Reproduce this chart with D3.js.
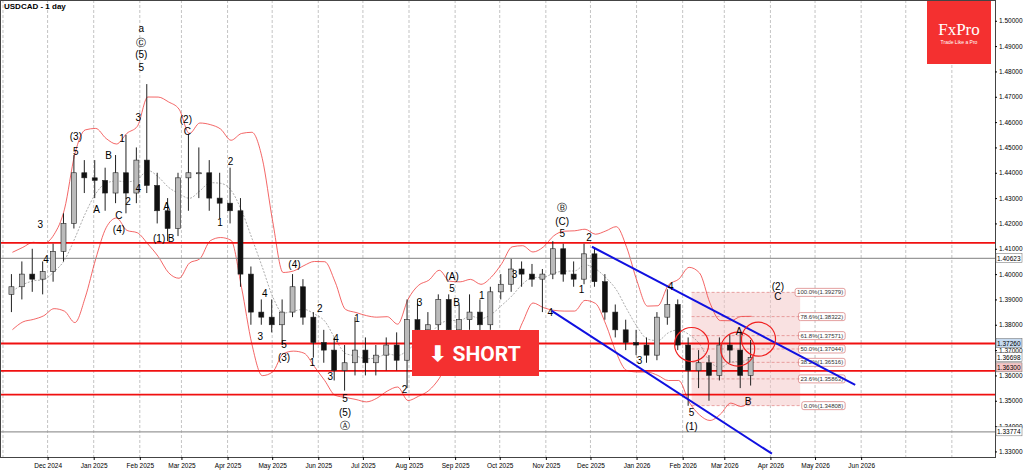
<!DOCTYPE html>
<meta charset="utf-8">
<head>
  <style>
    body { margin: 0; background: #fff; }
    svg { font-family: "Liberation Sans", Arial, sans-serif; }
    .tick text { font-size: 6.5px; fill: #000; }
    .wave { font-size: 10px; fill: #000; text-anchor: middle; }
    .fib { font-size: 6px; fill: #333; }
  </style>
  <script src="https://cdn.jsdelivr.net/npm/d3@7"></script>
</head>
<body>
<svg width="1024" height="474"></svg>
<script>

// weekly candles: week start, open, high, low, close
var weeks = ["2024-11-04","2024-11-11","2024-11-18","2024-11-25","2024-12-02","2024-12-09","2024-12-16","2024-12-23","2024-12-30",
  "2025-01-06","2025-01-13","2025-01-20","2025-01-27","2025-02-03","2025-02-10","2025-02-17","2025-02-24","2025-03-03","2025-03-10",
  "2025-03-17","2025-03-24","2025-03-31","2025-04-07","2025-04-14","2025-04-21","2025-04-28","2025-05-05","2025-05-12","2025-05-19",
  "2025-05-26","2025-06-02","2025-06-09","2025-06-16","2025-06-23","2025-06-30","2025-07-07","2025-07-14","2025-07-21","2025-07-28",
  "2025-08-04","2025-08-11","2025-08-18","2025-08-25","2025-09-01","2025-09-08","2025-09-15","2025-09-22","2025-09-29","2025-10-06",
  "2025-10-13","2025-10-20","2025-10-27","2025-11-03","2025-11-10","2025-11-17","2025-11-24","2025-12-01","2025-12-08","2025-12-15",
  "2025-12-22","2025-12-29","2026-01-05","2026-01-12","2026-01-19","2026-01-26","2026-02-02","2026-02-09","2026-02-16","2026-02-23",
  "2026-03-02","2026-03-09","2026-03-16"]
var opens  = [1.392,1.395,1.400,1.398,1.401,1.409,1.420,1.440,1.438,1.437,1.432,1.440,1.432,1.445,1.435,1.425,1.418,1.438,1.440,
  1.440,1.430,1.428,1.425,1.400,1.385,1.383,1.380,1.385,1.395,1.383,1.373,1.370,1.362,1.365,1.370,1.365,1.368,1.372,1.366,
  1.382,1.378,1.380,1.390,1.378,1.382,1.385,1.380,1.393,1.396,1.402,1.400,1.398,1.400,1.410,1.400,1.398,1.408,1.397,1.385,
  1.378,1.373,1.372,1.368,1.383,1.388,1.372,1.362,1.365,1.360,1.372,1.370,1.360]
var highs  = [1.400,1.405,1.410,1.405,1.412,1.424,1.447,1.445,1.445,1.442,1.447,1.455,1.450,1.475,1.440,1.430,1.440,1.455,1.450,
  1.445,1.440,1.442,1.430,1.403,1.390,1.390,1.390,1.400,1.398,1.385,1.378,1.375,1.372,1.383,1.375,1.372,1.375,1.377,1.390,
  1.390,1.385,1.392,1.392,1.388,1.392,1.390,1.395,1.400,1.406,1.405,1.404,1.402,1.413,1.412,1.405,1.412,1.410,1.400,1.388,
  1.382,1.378,1.375,1.385,1.394,1.390,1.375,1.370,1.368,1.375,1.376,1.377,1.374]
var lows   = [1.385,1.390,1.393,1.392,1.397,1.405,1.418,1.432,1.430,1.425,1.428,1.424,1.428,1.432,1.420,1.413,1.415,1.425,1.430,
  1.425,1.422,1.420,1.395,1.380,1.380,1.377,1.372,1.383,1.380,1.367,1.365,1.358,1.354,1.360,1.360,1.360,1.362,1.362,1.355,
  1.375,1.370,1.375,1.375,1.374,1.378,1.375,1.378,1.390,1.393,1.395,1.395,1.385,1.398,1.397,1.395,1.396,1.395,1.382,1.375,
  1.370,1.368,1.365,1.366,1.380,1.370,1.348,1.355,1.350,1.358,1.365,1.355,1.356]
var closes = [1.395,1.400,1.398,1.401,1.409,1.420,1.440,1.438,1.437,1.432,1.440,1.432,1.445,1.435,1.425,1.418,1.438,1.440,1.440,
  1.430,1.428,1.425,1.400,1.385,1.383,1.380,1.385,1.395,1.383,1.373,1.370,1.362,1.365,1.370,1.365,1.368,1.372,1.366,1.382,
  1.378,1.380,1.390,1.378,1.382,1.385,1.380,1.393,1.396,1.402,1.400,1.398,1.400,1.410,1.400,1.398,1.408,1.397,1.385,1.378,
  1.373,1.372,1.368,1.383,1.388,1.372,1.362,1.365,1.360,1.372,1.370,1.360,1.367]

// wave labels
var waveDates = ["2025-02-02","2025-02-02","2025-02-02","2025-02-02","2025-01-31","2025-01-20","2025-01-11","2024-12-20","2024-12-20",
  "2024-11-26","2024-11-30","2025-01-03","2025-01-18","2025-01-18","2025-01-24","2025-01-31","2025-02-19","2025-02-22","2025-02-14",
  "2025-03-04","2025-03-05","2025-04-03","2025-03-27","2025-05-16","2025-04-26","2025-04-23","2025-05-09","2025-05-09","2025-06-02",
  "2025-05-28","2025-06-13","2025-06-27","2025-06-09","2025-06-19","2025-06-19","2025-06-19","2025-07-29","2025-08-08","2025-08-30",
  "2025-08-30","2025-09-02","2025-09-19","2025-10-11","2025-11-04","2025-11-12","2025-11-12","2025-11-12","2025-11-30","2025-11-25",
  "2026-01-03","2026-01-24","2026-02-07","2026-02-07","2026-03-11","2026-03-17","2026-04-06","2026-04-06"]
var wavePrices = [1.497,1.4917,1.4867,1.4816,1.462,1.4536,1.447,1.4544,1.4485,
  1.4197,1.406,1.4256,1.4232,1.4178,1.429,1.434,1.427,1.4143,1.4143,
  1.4614,1.4563,1.4446,1.4205,1.4038,1.3925,1.3754,1.3726,1.3672,1.3867,
  1.3653,1.3746,1.3828,1.3598,1.3509,1.3454,1.3405,1.3548,1.389,1.3991,
  1.3944,1.389,1.3917,1.3999,1.3851,1.4263,1.4209,1.4162,1.4147,1.394,
  1.366,1.3952,1.3454,1.3400,1.3777,1.35,1.3952,1.3913]
var waveTexts = ["a","Ⓒ","(5)","5","3","1","B","(3)","5",
  "3","4","A","C","(4)","2","4","A","B","(1)",
  "(2)","C","2","1","(4)","4","3","5","(3)","2",
  "1","4","1","3","5","(5)","Ⓐ","2","3","(A)",
  "5","B","1","3","4","Ⓑ","(C)","5","2","1",
  "3","4","5","(1)","A","B","(2)","C"]

var levels = [1.4123, 1.3726, 1.3618, 1.3524]
var greyLevels = [1.40623, 1.33774]
var fibRatios = ["100.0%","78.6%","61.8%","50.0%","38.2%","23.6%","0.0%"]
var fibPrices = [1.39279,1.38322,1.37571,1.37044,1.36516,1.35863,1.34808]
var channelUpper = [["2025-12-02",1.4108],["2026-05-28",1.3563]]
var channelLower = [["2025-11-05",1.3855],["2026-04-02",1.3291]]
var circleDates = ["2026-02-07","2026-03-10","2026-03-24"]
var circlePrices = [1.3722, 1.3704, 1.3743]
var yTicks = d3.range(1.33, 1.5001, 0.01)
var monthTicks = ["2024-12-01","2025-01-01","2025-02-01","2025-03-01","2025-04-01","2025-05-01","2025-06-01","2025-07-01","2025-08-01",
  "2025-09-01","2025-10-01","2025-11-01","2025-12-01","2026-01-01","2026-02-01","2026-03-01","2026-04-01","2026-05-01","2026-06-01"]

var parse = d3.timeParse("%Y-%m-%d")
var svg = d3.select("svg")
var W = 995, H = 457

var x = d3.scaleTime().domain([parse("2024-10-30"), parse("2026-08-30")]).range([0, W])
var y = d3.scaleLinear().domain([1.3278, 1.5082]).range([H, 0])

// grid
svg.append("g").selectAll("line")
  .data(x.ticks(d3.timeMonth.every(1)))
  .enter().append("line")
  .attr("x1", function(d) { return x(d) }).attr("x2", function(d) { return x(d) })
  .attr("y1", 0).attr("y2", H)
  .attr("stroke", "#aaa").attr("stroke-dasharray", "3,2").attr("stroke-width", 0.7)

// fib box
var fx0 = x(parse("2026-02-07")), fx1 = x(parse("2026-04-21"))
svg.append("rect").attr("x", fx0).attr("y", y(fibPrices[0]))
  .attr("width", fx1 - fx0).attr("height", y(fibPrices[6]) - y(fibPrices[0]))
  .attr("fill", "#f3c4c4").attr("opacity", 0.5)
fibPrices.forEach(function(p, i) {
  svg.append("line").attr("x1", fx0).attr("x2", fx1).attr("y1", y(p)).attr("y2", y(p))
    .attr("stroke", "#e08080").attr("stroke-dasharray", "3,2").attr("stroke-width", 0.7)
  var t = svg.append("text").attr("class", "fib").attr("x", fx1 + 43).attr("y", y(p) + 2)
    .attr("text-anchor", "end").text(fibRatios[i] + "(" + p.toFixed(5) + ")")
  var bb = t.node().getBBox()
  svg.insert("rect", "text.fib").attr("x", bb.x - 2).attr("y", bb.y - 1)
    .attr("width", bb.width + 4).attr("height", bb.height + 2).attr("rx", 2)
    .attr("fill", "#fff").attr("stroke", "#d06060").attr("stroke-width", 0.6)
})

// bollinger (20 day approx from 4 weekly candles)
var dates = weeks.map(parse)
var bands = dates.map(function(d, i) {
  var vals = []
  for (var k = Math.max(0, i - 3); k <= i; k++) vals.push(highs[k], lows[k], closes[k])
  var m = d3.mean(vals), s = d3.deviation(vals) || 0.004
  return { d: d, m: m, u: m + 2 * s, l: m - 2 * s }
})
function bandLine(key) {
  return d3.line().curve(d3.curveMonotoneX).x(function(b) { return x(b.d) + 5 }).y(function(b) { return y(b[key]) })
}
svg.append("path").datum(bands).attr("d", bandLine("u")).attr("fill", "none").attr("stroke", "#f04040").attr("stroke-width", 0.8)
svg.append("path").datum(bands).attr("d", bandLine("l")).attr("fill", "none").attr("stroke", "#f04040").attr("stroke-width", 0.8)
svg.append("path").datum(bands).attr("d", bandLine("m")).attr("fill", "none").attr("stroke", "#888").attr("stroke-dasharray", "2,1.5").attr("stroke-width", 0.7)

// horizontal levels
svg.append("g").selectAll("line").data(greyLevels).enter().append("line")
  .attr("x1", 0).attr("x2", W).attr("y1", function(d) { return y(d) }).attr("y2", function(d) { return y(d) })
  .attr("stroke", "#999").attr("stroke-width", 1.2)
svg.append("g").selectAll("line").data(levels).enter().append("line")
  .attr("x1", 0).attr("x2", W).attr("y1", function(d) { return y(d) }).attr("y2", function(d) { return y(d) })
  .attr("stroke", "#f01010").attr("stroke-width", 1.8)

// candles
var cw = 5
var c = svg.append("g").selectAll("g").data(dates).enter().append("g")
c.append("line")
  .attr("x1", function(d) { return x(d) + 4 }).attr("x2", function(d) { return x(d) + 4 })
  .attr("y1", function(d, i) { return y(highs[i]) }).attr("y2", function(d, i) { return y(lows[i]) })
  .attr("stroke", "#222").attr("stroke-width", 1)
c.append("rect")
  .attr("x", function(d) { return x(d) + 4 - cw / 2 })
  .attr("y", function(d, i) { return y(Math.max(opens[i], closes[i])) })
  .attr("width", cw)
  .attr("height", function(d, i) { return Math.max(1, Math.abs(y(opens[i]) - y(closes[i]))) })
  .attr("fill", function(d, i) { return closes[i] >= opens[i] ? "#bbb" : "#111" })
  .attr("stroke", "#222").attr("stroke-width", 0.6)

// channel
;[channelUpper, channelLower].forEach(function(ch) {
  svg.append("line")
    .attr("x1", x(parse(ch[0][0]))).attr("y1", y(ch[0][1]))
    .attr("x2", x(parse(ch[1][0]))).attr("y2", y(ch[1][1]))
    .attr("stroke", "#1010e0").attr("stroke-width", 2)
})

// circles
svg.append("g").selectAll("circle").data(circleDates).enter().append("circle")
  .attr("cx", function(d) { return x(parse(d)) }).attr("cy", function(d, i) { return y(circlePrices[i]) })
  .attr("r", 17).attr("fill", "none").attr("stroke", "#f02020").attr("stroke-width", 1.2)

// wave labels
svg.append("g").selectAll("text").data(waveTexts).enter().append("text")
  .attr("class", "wave")
  .attr("x", function(d, i) { return x(parse(waveDates[i])) })
  .attr("y", function(d, i) { return y(wavePrices[i]) + 4 })
  .text(function(d) { return d })

// SHORT badge
svg.append("rect").attr("x", 412).attr("y", 330).attr("width", 127).attr("height", 46).attr("fill", "#f43030")
svg.append("text").attr("x", 475).attr("y", 361).attr("text-anchor", "middle")
  .attr("fill", "#fff").attr("font-size", "21px").attr("font-weight", "bold")
  .attr("font-family", "Roboto, 'Liberation Sans', sans-serif").text("⬇ SHORT")

// FxPro logo
svg.append("rect").attr("x", 927).attr("y", 0).attr("width", 64).attr("height", 64).attr("fill", "#f43030")
svg.append("text").attr("x", 959).attr("y", 35).attr("text-anchor", "middle").attr("fill", "#fff")
  .attr("font-size", "17px").attr("font-family", "'Liberation Serif', serif").text("FxPro")
svg.append("text").attr("x", 959).attr("y", 44).attr("text-anchor", "middle").attr("fill", "#fff")
  .attr("font-size", "5px").text("Trade Like a Pro")

// frame + axes
svg.append("rect").attr("x", 0.5).attr("y", 0.5).attr("width", W).attr("height", H)
  .attr("fill", "none").attr("stroke", "#444")
svg.append("g").attr("transform", "translate(" + W + ",0)")
  .call(d3.axisRight(y).tickValues(yTicks).tickFormat(d3.format(".5f")).tickSize(2).tickPadding(2))
  .call(function(g) { g.select(".domain").remove() })
svg.append("g").attr("transform", "translate(0," + H + ")")
  .call(d3.axisBottom(x).tickValues(monthTicks.map(parse)).tickFormat(d3.timeFormat("%b %Y")).tickSize(3))
  .call(function(g) { g.select(".domain").remove() })

// price tags on axis
var tags = [[1.37260, "#c6daf0"], [1.36698, "#fff"], [1.36300, "#f6c6c6"], [1.40623, "#fff"], [1.33774, "#fff"]]
tags.forEach(function(t) {
  svg.append("rect").attr("x", W + 1).attr("y", y(t[0]) - 5).attr("width", 26).attr("height", 9)
    .attr("fill", t[1]).attr("stroke", "#666").attr("stroke-width", 0.5)
  svg.append("text").attr("x", W + 2).attr("y", y(t[0]) + 2.5).attr("font-size", "6.5px").text(t[0].toFixed(5))
})

svg.append("text").attr("x", 4).attr("y", 9).attr("font-size", "8px").attr("font-weight", "bold").text("USDCAD - 1 day")

</script>
</body>
